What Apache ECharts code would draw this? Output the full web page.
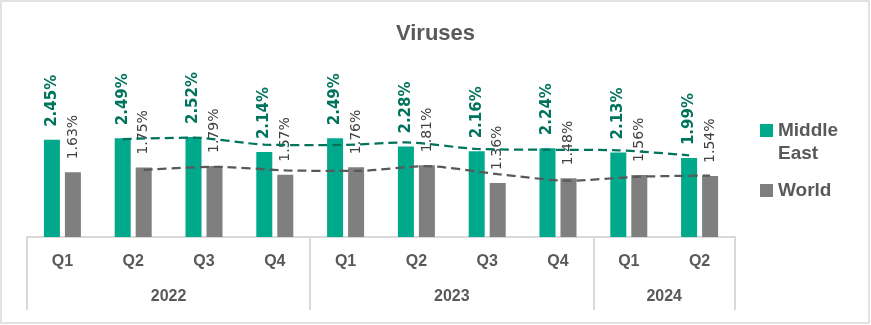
<!DOCTYPE html>
<html>
<head>
<meta charset="utf-8">
<script src="https://cdn.jsdelivr.net/npm/echarts@6/dist/echarts.min.js"></script>
<style>
html,body{margin:0;padding:0;background:#fff;}
#chart{width:871px;height:325px;}
</style>
</head>
<body>
<div id="chart"></div>
<script>
// ---- data ----
const quarters = ['Q1','Q2','Q3','Q4','Q1','Q2','Q3','Q4','Q1','Q2'];
const years = ['2022','2023','2024'];
const quartersPerYear = [4, 4, 2];
const middleEast = [2.45, 2.49, 2.52, 2.14, 2.49, 2.28, 2.16, 2.24, 2.13, 1.99];
const world = [1.63, 1.75, 1.79, 1.57, 1.76, 1.81, 1.36, 1.48, 1.56, 1.54];
const seriesNames = ['Middle East', 'World'];
const movingAvgPeriod = 2;

// ---- layout / style ----
const W = 871, H = 325;
const GRID = {left: 27, right: 136, top: 118, bottom: 88};
const BAR_W = 16, BAR_GAP_PX = 5;
const GREEN = '#00A88C', GREEN_DARK = '#00735C', GREY = '#7F7F7F', GREY_DARK = '#595959';
const TXT = '#595959';
const CAL = "'Liberation Sans', Arial, sans-serif";
const LBL = "'DejaVu Sans', Verdana, sans-serif";
const LEG_FS = 19, LEG_LH = 23;

const catW = (W - GRID.left - GRID.right) / quarters.length;
const offset = (BAR_W + BAR_GAP_PX) / 2 / catW;

function movingAvg(arr, p) {
  const out = [];
  for (let i = p - 1; i < arr.length; i++) {
    let s = 0;
    for (let k = i - p + 1; k <= i; k++) s += arr[k];
    out.push([i, s / p]);
  }
  return out;
}

// half-slot year axis: boundaries and label positions
const total = quartersPerYear.reduce((a, b) => a + b, 0);
const yearSlots = new Array(total * 2 + 1).fill('');
const boundaries = new Set([0]);
let acc = 0;
years.forEach((y, i) => {
  yearSlots[acc * 2 + quartersPerYear[i]] = y;
  acc += quartersPerYear[i];
  boundaries.add(acc * 2);
});

const chart = echarts.init(document.getElementById('chart'), null, {renderer: 'canvas'});

function barLabel(color, bold, size) {
  return {
    show: true, position: 'top', rotate: 90, align: 'left', verticalAlign: 'middle',
    distance: 13, color: color, fontFamily: LBL, fontWeight: bold ? 'bold' : 'normal', fontSize: size,
    formatter: p => p.value.toFixed(2) + '%'
  };
}

const legTxt = {fontFamily: CAL, fontSize: LEG_FS, fontWeight: 'bold', color: TXT, lineHeight: LEG_LH};

const option = {
  animation: false,
  backgroundColor: '#fff',
  title: {
    text: 'Viruses', left: 'center', top: 18,
    textStyle: {fontFamily: CAL, fontSize: 22, fontWeight: 'bold', color: TXT}
  },
  graphic: [{
    type: 'rect', shape: {x: 1, y: 1, width: W - 3, height: H - 3},
    style: {fill: 'none', stroke: '#D9D9D9', lineWidth: 1.5}, silent: true
  }],
  legend: [
    {
      data: [seriesNames[0]],
      orient: 'vertical', left: 755, top: 91, itemWidth: 13, itemHeight: 13,
      icon: 'rect',
      formatter: n => {
        const parts = n.split(' ');
        return '{s| }\n' + parts.map(p => '{a|' + p + '}').join('\n');
      },
      textStyle: Object.assign({}, legTxt, {rich: {s: {lineHeight: LEG_LH, fontSize: LEG_FS}, a: legTxt}})
    },
    {
      data: [seriesNames[1]],
      orient: 'vertical', left: 755, top: 174, itemWidth: 13, itemHeight: 13,
      icon: 'rect',
      textStyle: legTxt
    }
  ],
  grid: {left: GRID.left, right: GRID.right, top: GRID.top, bottom: GRID.bottom, containLabel: false},
  xAxis: [
    {
      type: 'category', data: quarters, position: 'bottom',
      axisLine: {show: true, lineStyle: {color: '#D9D9D9', width: 2}},
      axisTick: {show: false},
      axisLabel: {margin: 17, fontFamily: CAL, fontSize: 16, fontWeight: 'bold', color: TXT, interval: 0}
    },
    {
      type: 'category', data: yearSlots, position: 'bottom', boundaryGap: false,
      axisLine: {show: false},
      axisTick: {show: true, length: 73, interval: i => boundaries.has(i), lineStyle: {color: '#D9D9D9', width: 2}},
      axisLabel: {margin: 52, fontFamily: CAL, fontSize: 16, fontWeight: 'bold', color: TXT,
        interval: (i, v) => v !== ''}
    },
    {type: 'value', min: -0.5, max: quarters.length - 0.5, show: false}
  ],
  yAxis: {type: 'value', min: 0, max: 3, show: false},
  series: [
    {
      name: seriesNames[0], type: 'bar', xAxisIndex: 0, data: middleEast,
      barWidth: BAR_W, barGap: (BAR_GAP_PX / BAR_W * 100) + '%',
      itemStyle: {color: GREEN}, label: barLabel(GREEN_DARK, true, 15)
    },
    {
      name: seriesNames[1], type: 'bar', xAxisIndex: 0, data: world,
      barWidth: BAR_W,
      itemStyle: {color: GREY}, label: barLabel('#404040', false, 14)
    },
    {
      name: 'ma1', type: 'line', xAxisIndex: 2, symbol: 'none', smooth: 0.25, z: 5,
      data: movingAvg(middleEast, movingAvgPeriod).map(d => [d[0] - offset, d[1]]),
      lineStyle: {color: GREEN_DARK, width: 2.25, type: [9, 5]}
    },
    {
      name: 'ma2', type: 'line', xAxisIndex: 2, symbol: 'none', smooth: 0.25, z: 5,
      data: movingAvg(world, movingAvgPeriod).map(d => [d[0] + offset, d[1]]),
      lineStyle: {color: GREY_DARK, width: 2.25, type: [9, 5]}
    }
  ]
};
chart.setOption(option);
</script>
</body>
</html>
